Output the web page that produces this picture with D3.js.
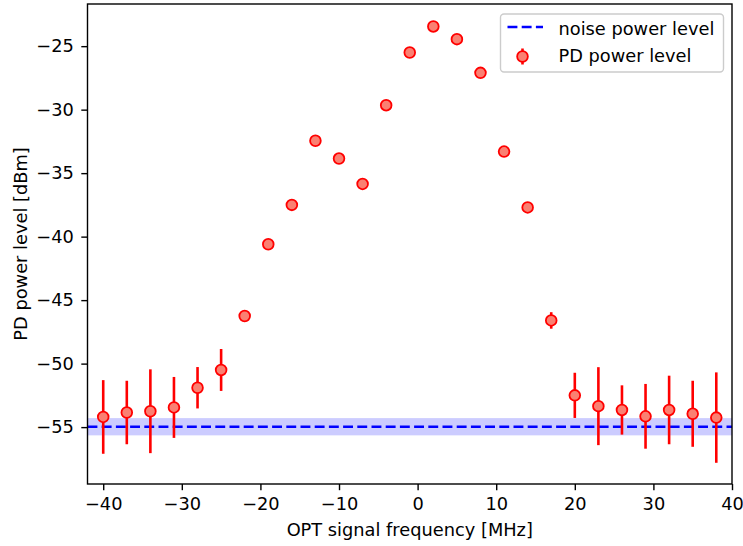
<!DOCTYPE html>
<html>
<head>
<meta charset="utf-8">
<script src="https://cdn.jsdelivr.net/npm/d3@7"></script>
<style>
  body { margin: 0; background: #fff; }
  text { font-family: "DejaVu Sans", sans-serif; }
</style>
</head>
<body>
<svg id="chart" width="743" height="546"></svg>
<script>
// ---- data ----
const freqs = [-40, -37, -34, -31, -28, -25, -22, -19, -16, -13, -10, -7, -4, -1, 2, 5, 8, 11, 14, 17, 20, 23, 26, 29, 32, 35, 38];
const pdLevel = [-54.2, -53.85, -53.75, -53.45, -51.9, -50.5, -46.25, -40.6, -37.5, -32.45, -33.85, -35.85, -29.65, -25.5, -23.45, -24.45, -27.1, -33.3, -37.7, -46.6, -52.5, -53.35, -53.65, -54.15, -53.65, -53.95, -54.25];
const pdError = [2.9, 2.5, 3.3, 2.4, 1.63, 1.65, 0.3, 0.1, 0.1, 0.1, 0.1, 0.1, 0.1, 0.1, 0.1, 0.1, 0.1, 0.1, 0.1, 0.65, 1.78, 3.07, 1.94, 2.55, 2.7, 2.6, 3.56];
const noiseLevel = -54.97;
const noiseBand = 0.68;
const xTicks = [-40, -30, -20, -10, 0, 10, 20, 30, 40];
const yTicks = [-55, -50, -45, -40, -35, -30, -25];
const xLabel = "OPT signal frequency [MHz]";
const yLabel = "PD power level [dBm]";
const legendLabels = ["noise power level", "PD power level"];

// ---- layout ----
const FS = 17.8;
const svg = d3.select("#chart");
const L = 87.5, R = 732, T = 4, B = 484;
const x = d3.scaleLinear().domain([-42, 40]).range([L, R]);
const y = d3.scaleLinear().domain([-59.48, -21.68]).range([B, T]);

const fmt = d => d3.format("d")(d).replace("-", "\u2212");

// noise band
svg.append("rect")
  .attr("x", L).attr("width", R - L)
  .attr("y", y(noiseLevel + noiseBand))
  .attr("height", y(noiseLevel - noiseBand) - y(noiseLevel + noiseBand))
  .attr("fill", "#0000ff").attr("fill-opacity", 0.2);

// noise line
svg.append("line")
  .attr("x1", L).attr("x2", R)
  .attr("y1", y(noiseLevel)).attr("y2", y(noiseLevel))
  .attr("stroke", "#0000ff").attr("stroke-width", 2.6)
  .attr("stroke-dasharray", "9.9,4.3");

// error bars
const g = svg.append("g");
g.selectAll("line.err").data(freqs).join("line")
  .attr("class", "err")
  .attr("x1", d => x(d)).attr("x2", d => x(d))
  .attr("y1", (d, i) => y(pdLevel[i] + pdError[i]))
  .attr("y2", (d, i) => y(pdLevel[i] - pdError[i]))
  .attr("stroke", "#ff0000").attr("stroke-width", 2.6);

g.selectAll("circle").data(freqs).join("circle")
  .attr("cx", d => x(d)).attr("cy", (d, i) => y(pdLevel[i]))
  .attr("r", 5.35)
  .attr("fill", "#fa8072").attr("stroke", "#ff0000").attr("stroke-width", 1.8);

// axes
const xAxis = d3.axisBottom(x).tickValues(xTicks).tickFormat(fmt).tickSizeOuter(0).tickSize(6.2).tickPadding(7.5);
const yAxis = d3.axisLeft(y).tickValues(yTicks).tickFormat(fmt).tickSizeOuter(0).tickSize(6.2).tickPadding(7.5);

const gx = svg.append("g").attr("transform", `translate(0,${B})`).call(xAxis);
const gy = svg.append("g").attr("transform", `translate(${L},0)`).call(yAxis);
[gx, gy].forEach(a => {
  a.select(".domain").remove();
  a.selectAll(".tick line").attr("stroke", "#000").attr("stroke-width", 1.4);
  a.selectAll(".tick text").attr("font-size", FS).attr("fill", "#000")
    .style("font-family", "DejaVu Sans, sans-serif");
});

// frame
svg.append("rect").attr("x", L).attr("y", T).attr("width", R - L).attr("height", B - T)
  .attr("fill", "none").attr("stroke", "#000").attr("stroke-width", 1.4);

// labels
svg.append("text").attr("x", (L + R) / 2).attr("y", 536)
  .attr("text-anchor", "middle").attr("font-size", FS).text(xLabel);
svg.append("text")
  .attr("transform", `translate(26.5,${(T + B) / 2}) rotate(-90)`)
  .attr("text-anchor", "middle").attr("font-size", FS).text(yLabel);

// legend
const lg = svg.append("g");
lg.append("rect").attr("x", 500.5).attr("y", 14).attr("width", 223).attr("height", 58)
  .attr("rx", 3.5).attr("fill", "#fff").attr("fill-opacity", 0.8)
  .attr("stroke", "#cccccc").attr("stroke-width", 1.4);
lg.append("line").attr("x1", 507.5).attr("x2", 543).attr("y1", 27).attr("y2", 27)
  .attr("stroke", "#0000ff").attr("stroke-width", 2.6).attr("stroke-dasharray", "9.9,4.3");
lg.append("line").attr("x1", 522.5).attr("x2", 522.5).attr("y1", 48.5).attr("y2", 64.5)
  .attr("stroke", "#ff0000").attr("stroke-width", 2.6);
lg.append("circle").attr("cx", 522.5).attr("cy", 56.5).attr("r", 5.35)
  .attr("fill", "#fa8072").attr("stroke", "#ff0000").attr("stroke-width", 1.8);
lg.append("text").attr("x", 558.5).attr("y", 34.5).attr("font-size", FS).text(legendLabels[0]);
lg.append("text").attr("x", 558.5).attr("y", 61.5).attr("font-size", FS).text(legendLabels[1]);
</script>
</body>
</html>
